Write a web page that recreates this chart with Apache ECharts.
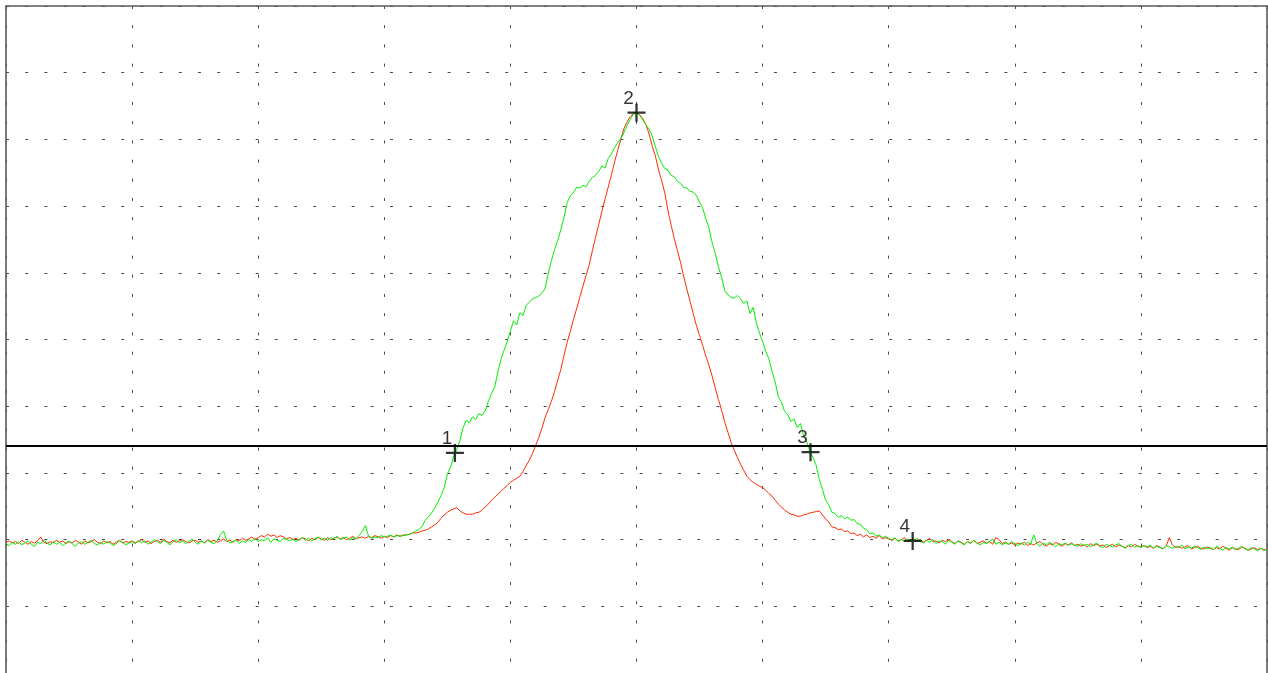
<!DOCTYPE html>
<html>
<head>
<meta charset="utf-8">
<title>Trace capture</title>
<script src="https://cdn.jsdelivr.net/npm/echarts@6/dist/echarts.min.js"></script>
<style>
  html, body { margin: 0; padding: 0; background: #ffffff; overflow: hidden; }
  #chart { width: 1268px; height: 673px; }
</style>
</head>
<body>
<div id="chart"></div>
<script>
// Screen is 10 x 10 divisions; both axes run 0..1000 (100 units per division).
var SAMPLE_STEP = 2.5; // x units between successive samples

// Channel B (green) samples
var traceGreen = [
  194,191,196,193,197,192,195,198,193,190,196,194,199,195,192,197,193,196,191,195,
  198,194,190,195,197,193,196,199,194,192,196,193,197,195,191,194,198,196,192,195,
  197,194,199,195,198,193,196,200,197,194,199,196,192,197,200,195,198,194,197,201,
  196,193,198,195,199,196,194,198,207,213,199,195,197,199,194,198,196,200,197,202,
  197,200,198,203,196,201,199,197,202,200,198,201,197,200,203,199,202,198,201,204,
  200,202,199,203,201,205,200,202,204,199,203,201,206,212,221,205,202,204,203,206,
  204,205,207,204,206,205,206,207,208,210,213,215,220,229,234,240,247,256,266,278,
  298,308,325,335,349,368,379,375,384,380,389,386,393,407,419,428,451,470,484,497,
  513,528,522,540,536,551,556,561,563,565,570,576,599,618,635,648,665,683,705,716,
  720,728,727,731,729,737,743,746,752,760,757,771,778,787,795,801,810,821,830,838,
  840,836,829,822,815,805,789,774,764,756,754,746,744,737,734,728,727,722,721,716,
  706,697,681,667,645,629,609,593,573,567,563,562,566,561,554,558,539,548,525,510,
  497,482,471,452,436,414,406,392,387,377,381,368,374,356,347,332,323,311,290,275,
  259,252,241,239,233,236,231,234,229,230,224,223,217,215,209,210,205,207,203,205,
  202,199,203,197,200,198,201,198,199,202,197,195,199,196,200,194,198,197,193,199,
  196,193,198,195,192,197,194,199,195,192,196,194,197,201,193,196,192,195,193,197,
  194,191,195,192,196,193,207,194,190,195,192,196,193,189,194,192,195,191,194,192,
  190,194,191,193,189,192,195,190,188,193,191,189,192,194,190,187,191,193,189,191,
  188,191,189,192,187,190,188,186,191,189,187,190,188,192,186,189,187,190,188,185,
  189,186,188,185,190,187,184,188,186,189,185,187,190,186,184,188,186,183,187,185,
  184
];

// Channel A (red) samples
var traceRed = [
  196,198,195,197,194,199,196,193,197,195,198,204,196,194,197,195,199,196,198,194,
  197,195,199,196,193,198,195,197,200,196,194,198,195,197,193,196,199,195,197,196,
  198,195,197,200,196,198,194,197,199,196,201,197,195,199,196,198,200,197,195,198,
  199,196,198,195,200,197,199,196,198,201,197,199,196,200,198,202,199,201,204,200,
  203,206,204,208,205,207,203,206,204,201,203,200,202,199,203,201,198,202,200,203,
  201,199,203,200,202,204,201,203,200,202,205,201,203,204,202,205,203,206,204,202,
  205,203,206,204,207,205,207,207,208,210,210,211,213,214,216,219,222,226,232,237,
  241,244,246,248,243,240,238,238,238,240,241,244,249,253,259,263,268,272,277,281,
  286,289,292,295,302,311,319,329,341,353,367,383,395,407,422,439,455,476,496,512,
  530,546,563,580,596,612,633,653,672,692,710,728,746,765,783,800,816,826,834,839,
  840,837,831,822,808,790,775,754,738,719,693,671,651,633,615,594,575,557,539,521,
  506,491,475,461,445,427,410,394,376,361,346,334,323,313,304,295,290,286,283,280,
  278,274,269,265,259,253,249,244,241,238,237,235,235,237,238,240,241,242,243,237,
  231,226,219,218,215,216,212,213,209,210,206,208,204,207,203,205,202,206,201,203,
  201,199,202,198,200,203,197,199,201,198,200,196,199,202,197,198,195,199,197,200,
  197,194,198,196,193,197,195,199,194,196,198,195,197,193,203,200,194,196,193,195,
  192,195,193,196,191,194,192,195,197,193,190,194,192,196,193,190,194,192,195,191,
  193,190,192,189,194,191,193,190,192,188,191,193,189,192,190,188,191,189,193,190,
  189,191,188,190,187,191,189,186,190,203,192,188,190,187,189,191,186,188,190,187,
  186,189,187,185,188,186,190,187,184,188,186,185,189,187,184,186,188,185,187,184,
  186
];

// Numbered cursors placed on the traces
var cursorNames = ['1', '2', '3', '4'];
var cursorX = [356, 500, 638, 719];
var cursorY = [330, 840, 331, 198];

// Horizontal level line
var levelY = 340;

var AXIS_MIN = 0, AXIS_MAX = 1000, DIV = 100;

function toPairs(arr) {
  return arr.map(function (v, i) { return [i * SAMPLE_STEP, v]; });
}

var cursorData = cursorNames.map(function (n, k) {
  return { name: n, value: [cursorX[k], cursorY[k]] };
});

var gridLine = {
  show: true,
  lineStyle: { color: '#4a4a4a', width: 1, type: [3, 16.2] }
};
// Frame on top, left and right; the lower edge is left open
var frameLine = { show: true, onZero: false, lineStyle: { color: '#5a5a5a', width: 1.6 } };
var hidden = { show: false };

var chart = echarts.init(document.getElementById('chart'), null, { renderer: 'canvas' });
chart.setOption({
  animation: false,
  backgroundColor: '#ffffff',
  grid: { left: 6, top: 6, width: 1261, height: 668.5, show: false },
  xAxis: {
    type: 'value', position: 'top', min: AXIS_MIN, max: AXIS_MAX, interval: DIV,
    axisLine: frameLine, axisTick: hidden, axisLabel: hidden,
    splitLine: gridLine
  },
  yAxis: [
    {
      type: 'value', position: 'left', min: AXIS_MIN, max: AXIS_MAX, interval: DIV,
      axisLine: frameLine, axisTick: hidden, axisLabel: hidden,
      splitLine: gridLine
    },
    {
      type: 'value', position: 'right', min: AXIS_MIN, max: AXIS_MAX, interval: DIV,
      axisLine: frameLine, axisTick: hidden, axisLabel: hidden,
      splitLine: hidden
    }
  ],
  series: [
    {
      name: 'A', type: 'line', data: toPairs(traceRed),
      showSymbol: false, symbol: 'none', sampling: null,
      lineStyle: { color: '#ff2a00', width: 1 },
      markLine: {
        silent: true, symbol: 'none', label: { show: false },
        lineStyle: { color: '#000000', width: 2, type: 'solid' },
        data: [{ yAxis: levelY }]
      }
    },
    {
      name: 'B', type: 'line', data: toPairs(traceGreen),
      showSymbol: false, symbol: 'none',
      lineStyle: { color: '#00f000', width: 1 }
    },
    {
      name: 'cursors', type: 'scatter', data: cursorData,
      symbol: 'path://M7,0H9V7H16V9H9V16H7V9H0V7H7Z',
      symbolSize: 18,
      itemStyle: { color: '#000000' },
      label: {
        show: true, formatter: '{b}', position: 'inside', offset: [-8, -14],
        color: '#000000', fontSize: 19, fontFamily: 'Liberation Sans, Arial, sans-serif'
      },
      z: 5
    }
  ]
});
</script>
</body>
</html>
